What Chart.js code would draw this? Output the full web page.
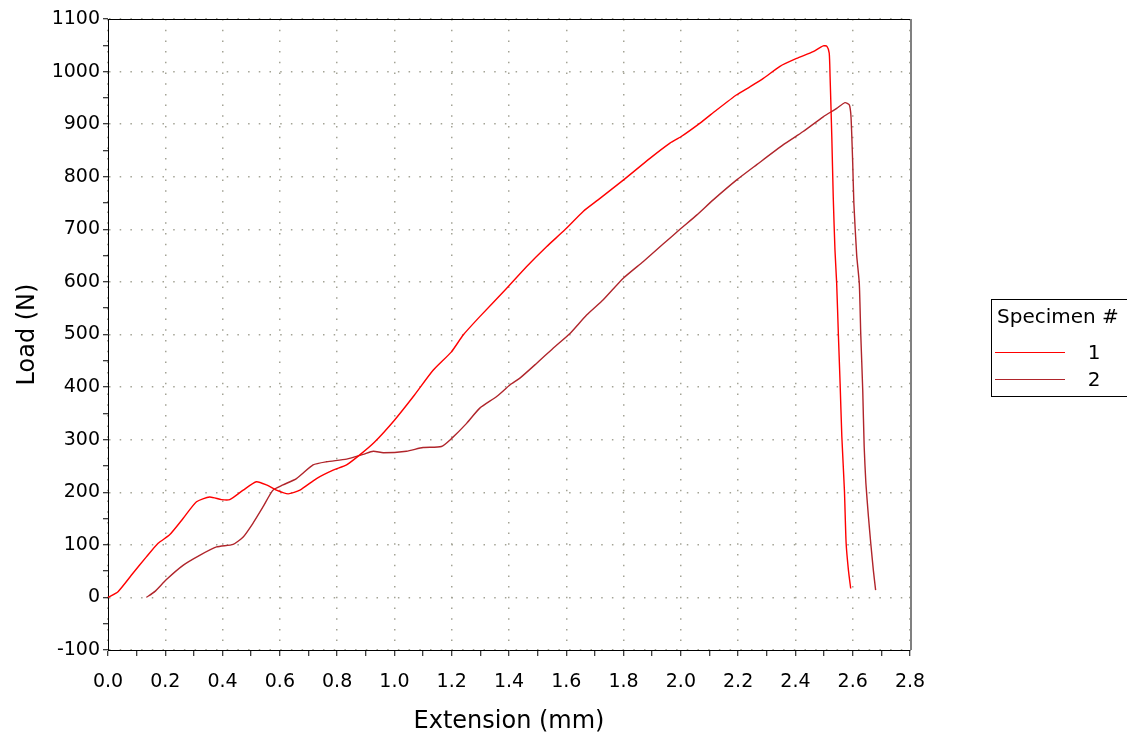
<!DOCTYPE html>
<html>
<head>
<meta charset="utf-8">
<title>Load vs Extension</title>
<script src="https://cdn.jsdelivr.net/npm/chart.js@4.4.1/dist/chart.umd.min.js"></script>
<style>
    html, body { margin: 0; padding: 0; background: #fff; }
    #wrap { width: 1127px; height: 736px; }
</style>
</head>
<body>
<div id="wrap"><canvas id="loadChart" width="1127" height="736"></canvas></div>
<script>
// ========== Data ==========

const legendTitle = 'Specimen #';
const specimenLabels = ['1', '2'];
const specimenColors = ['#ff0000', '#b0252b'];

const extension1 = [0.000, 0.035, 0.087, 0.134, 0.175, 0.215, 0.262, 0.309, 0.355, 0.396, 0.425, 0.472,
    0.518, 0.553, 0.588, 0.629, 0.670, 0.728, 0.786, 0.833, 0.879, 0.930, 1.000, 1.066, 1.135, 1.199,
    1.240, 1.298, 1.392, 1.461, 1.531, 1.595, 1.659, 1.711, 1.800, 1.892, 1.962, 2.000, 2.067, 2.125,
    2.195, 2.241, 2.288, 2.346, 2.404, 2.462, 2.497, 2.510, 2.518, 2.521, 2.527, 2.532, 2.538, 2.544,
    2.550, 2.556, 2.562, 2.571, 2.577, 2.585, 2.593];
const load1 = [0, 11, 46, 77, 103, 119, 150, 182, 191, 186, 186, 204,
    220, 214, 204, 197, 204, 226, 242, 252, 271, 295, 337, 382, 432, 467,
    499, 534, 588, 629, 667, 699, 734, 756, 794, 835, 864, 876, 902, 927,
    956, 971, 987, 1010, 1025, 1038, 1049, 1048, 1035, 990, 876, 762, 661, 597,
    499, 407, 306, 204, 103, 52, 17];

const extension2 = [0.134, 0.163, 0.204, 0.262, 0.320, 0.379, 0.437, 0.472, 0.506, 0.541, 0.576, 0.611,
    0.658, 0.716, 0.763, 0.833, 0.891, 0.926, 0.961, 1.042, 1.100, 1.164, 1.199, 1.252, 1.298, 1.357,
    1.403, 1.438, 1.496, 1.554, 1.613, 1.671, 1.729, 1.799, 1.869, 1.938, 1.997, 2.055, 2.113, 2.195,
    2.265, 2.358, 2.427, 2.497, 2.544, 2.573, 2.588, 2.594, 2.600, 2.604, 2.614, 2.623, 2.628, 2.635,
    2.640, 2.646, 2.655, 2.663, 2.672, 2.680];
const load2 = [0, 11, 34, 61, 80, 96, 101, 115, 141, 172, 204, 214,
    226, 252, 258, 263, 272, 278, 275, 278, 285, 287, 302, 331, 360, 382,
    404, 417, 445, 474, 502, 537, 566, 607, 639, 672, 700, 727, 756, 794,
    823, 861, 886, 914, 930, 941, 937, 914, 826, 750, 650, 597, 502, 394,
    287, 217, 153, 103, 52, 14];

const xRange = [0, 2.8];
const yRange = [-100, 1100];

// ========== Helpers ==========

function toPoints(xs, ys) {
    return xs.map((x, i) => ({ x: x, y: ys[i] }));
}

const FONT = '"DejaVu Sans", Verdana, sans-serif';
const GRID_COLOR = '#a3a395';

// legend box + top / right frame lines
const boxLegend = {
    id: 'boxLegend',
    afterDraw(chart) {
        const ctx = chart.ctx;
        const area = chart.chartArea;
        ctx.save();

        ctx.strokeStyle = '#000';
        ctx.lineWidth = 1;
        ctx.beginPath();
        ctx.moveTo(area.left, area.top + 0.5);
        ctx.lineTo(area.right, area.top + 0.5);
        ctx.stroke();

        ctx.strokeStyle = '#808080';
        ctx.lineWidth = 2;
        ctx.beginPath();
        ctx.moveTo(area.right + 1, area.top);
        ctx.lineTo(area.right + 1, area.bottom);
        ctx.stroke();

        ctx.strokeStyle = '#000';
        ctx.lineWidth = 1;
        ctx.strokeRect(991.5, 299.5, 145, 97);

        ctx.font = '20px ' + FONT;
        ctx.fillStyle = '#000';
        ctx.textBaseline = 'middle';
        ctx.textAlign = 'left';
        ctx.fillText(legendTitle, 997, 318);

        chart.data.datasets.forEach((ds, i) => {
            const y = 352 + i * 27;
            ctx.strokeStyle = ds.borderColor;
            ctx.beginPath();
            ctx.moveTo(995, y + 0.5);
            ctx.lineTo(1065, y + 0.5);
            ctx.stroke();
            ctx.textAlign = 'center';
            ctx.fillText(ds.label, 1094, y + 2);
        });
        ctx.restore();
    }
};

// ========== Chart ==========

function initChart() {
    const ctx = document.getElementById('loadChart').getContext('2d');

    new Chart(ctx, {
        type: 'line',
        data: {
            datasets: [
                {
                    label: specimenLabels[0],
                    data: toPoints(extension1, load1),
                    borderColor: specimenColors[0],
                    borderWidth: 1.4,
                    pointRadius: 0,
                    tension: 0.2,
                    fill: false
                },
                {
                    label: specimenLabels[1],
                    data: toPoints(extension2, load2),
                    borderColor: specimenColors[1],
                    borderWidth: 1.4,
                    pointRadius: 0,
                    tension: 0.2,
                    fill: false
                }
            ]
        },
        options: {
            responsive: false,
            animation: false,
            layout: { padding: { top: 19, right: 217, bottom: 0, left: 0 } },
            plugins: {
                legend: { display: false },
                tooltip: { enabled: false }
            },
            scales: {
                x: {
                    type: 'linear',
                    min: xRange[0],
                    max: xRange[1],
                    afterFit(scale) { scale.height = 86; },
                    afterBuildTicks(scale) {
                        const ticks = [];
                        for (let i = 0; i <= 28; i++) ticks.push({ value: i / 10 });
                        scale.ticks = ticks;
                    },
                    ticks: {
                        autoSkip: false,
                        maxRotation: 0,
                        padding: 15,
                        color: '#000',
                        font: { family: FONT, size: 19 },
                        callback: function(value) {
                            const n = Math.round(value * 10);
                            return n % 2 === 0 ? (n / 10).toFixed(1) : '';
                        }
                    },
                    grid: {
                        color: c => (Math.round(c.tick.value * 10) % 2 === 0 ? GRID_COLOR : 'rgba(0,0,0,0)'),
                        lineWidth: 1.5,
                        tickColor: '#000',
                        tickLength: 6,
                        tickWidth: 1
                    },
                    border: { display: true, color: '#000', width: 1, dash: [1.5, 9.2] },
                    title: {
                        display: true,
                        text: 'Extension (mm)',
                        color: '#000',
                        font: { family: FONT, size: 24 },
                        padding: { top: 0, bottom: 0 }
                    }
                },
                y: {
                    type: 'linear',
                    min: yRange[0],
                    max: yRange[1],
                    afterFit(scale) { scale.width = 108; },
                    ticks: {
                        stepSize: 50,
                        autoSkip: false,
                        padding: 3,
                        color: '#000',
                        font: { family: FONT, size: 19 },
                        callback: function(value) {
                            return value % 100 === 0 ? String(value) : '';
                        }
                    },
                    grid: {
                        color: c => (c.tick.value % 100 === 0 ? GRID_COLOR : 'rgba(0,0,0,0)'),
                        lineWidth: 1.5,
                        tickColor: '#000',
                        tickLength: 5,
                        tickWidth: 1
                    },
                    border: { display: true, color: '#000', width: 1, dash: [1.5, 9.2] },
                    title: {
                        display: true,
                        text: 'Load (N)',
                        color: '#000',
                        font: { family: FONT, size: 24 },
                        padding: { top: 13, bottom: 0 }
                    }
                }
            }
        },
        plugins: [boxLegend]
    });
}

document.addEventListener('DOMContentLoaded', initChart);
</script>
</body>
</html>
